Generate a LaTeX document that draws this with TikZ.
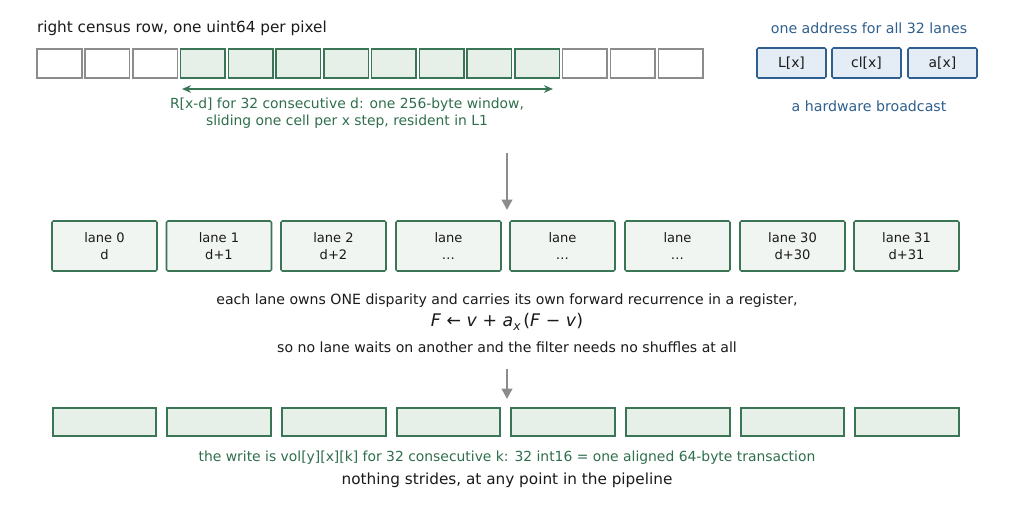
\documentclass[tikz,border=0pt]{standalone}
\usepackage{fontspec}
\setmainfont{DejaVu Sans}
\usetikzlibrary{arrows.meta}
\definecolor{gedge}{HTML}{3A7556}
\definecolor{gtext}{HTML}{2F6E4C}
\definecolor{gfill}{HTML}{E6F0E8}
\definecolor{lfill}{HTML}{F1F5F1}
\definecolor{bedge}{HTML}{2F5F8E}
\definecolor{bfill}{HTML}{E4EDF5}
\definecolor{btext}{HTML}{2F5F8E}
\definecolor{gcell}{HTML}{8C8C8C}
\definecolor{txt}{HTML}{1A1A1A}
\tikzset{
  every node/.style={inner sep=0pt, outer sep=0pt},
  graycell/.style={draw=gcell, line width=1.1pt, fill=white, minimum width=44.5*0.72pt, minimum height=29*0.72pt},
  greencell/.style={draw=gedge, line width=1.1pt, fill=gfill, minimum width=44.5*0.72pt, minimum height=29*0.72pt},
  bluebox/.style={draw=bedge, line width=1.1pt, fill=bfill, rounded corners=1pt, minimum width=69*0.72pt, minimum height=30*0.72pt, font=\fontsize{10}{11}\selectfont, text=txt},
  lanebox/.style={draw=gedge, line width=1.1pt, fill=lfill, rounded corners=1pt, minimum width=105*0.72pt, minimum height=50*0.72pt, align=center, font=\fontsize{9.4}{12.2}\selectfont, text=txt},
  outbox/.style={draw=gedge, line width=1.1pt, fill=gfill, minimum width=103.5*0.72pt, minimum height=28*0.72pt},
  grayarrow/.style={draw=gcell, line width=2.1pt, -{Triangle[length=7.5pt,width=7.5pt]}},
  gtxt/.style={text=gtext, font=\fontsize{10}{12.2}\selectfont, align=center},
  btxt/.style={text=btext, font=\fontsize{10.2}{12}\selectfont},
  ktxt/.style={text=txt, font=\fontsize{10.15}{12}\selectfont},
}
\begin{document}
\begin{tikzpicture}[x=0.72pt,y=-0.72pt]
\useasboundingbox (0,0) rectangle (1013,506);
% title
\node[text=txt, font=\fontsize{11}{12}\selectfont, anchor=west] (title) at (37,28) {right census row, one uint64 per pixel};
% top row of cells
\foreach \i in {0,...,13}{
  \pgfmathsetmacro{\cx}{59.5+47.77*\i}
  \ifnum\i<3
    \node[graycell] (c\i) at (\cx,63.5) {};
  \else\ifnum\i>10
    \node[graycell] (c\i) at (\cx,63.5) {};
  \else
    \node[greencell] (c\i) at (\cx,63.5) {};
  \fi\fi
}
\coordinate (wl) at (182,89);
\coordinate (wr) at (553,89);
\draw[gedge, line width=1.3pt, {Stealth[length=6.5pt,width=5.5pt]}-{Stealth[length=6.5pt,width=5.5pt]}] (wl) -- (wr);
\node[gtxt] (wtext) at (347,113) {R[x-d] for 32 consecutive d: one 256-byte window,\\sliding one cell per x step, resident in L1};
% broadcast boxes
\node[btxt] (btop) at (869,28) {one address for all 32 lanes};
\node[bluebox] (bL) at (791.5,63) {L[x]};
\node[bluebox] (bcl) at (866.5,63) {cl[x]};
\node[bluebox] (ba) at (942.5,63) {a[x]};
\node[btxt] (bbot) at (869,106) {a hardware broadcast};
% arrow 1
\coordinate (a1s) at (507,153);
\coordinate (a1e) at (507,210);
\draw[grayarrow] (a1s) -- (a1e);
% lanes
\node[lanebox] (l0) at (104.5,246) {lane 0\\d};
\node[lanebox] (l1) at (219,246) {lane 1\\d+1};
\node[lanebox] (l2) at (333.5,246) {lane 2\\d+2};
\node[lanebox] (l3) at (448.5,246) {lane\\\dots};
\node[lanebox] (l4) at (562.5,246) {lane\\\dots};
\node[lanebox] (l5) at (677.5,246) {lane\\\dots};
\node[lanebox] (l6) at (792.5,246) {lane 30\\d+30};
\node[lanebox] (l7) at (906.5,246) {lane 31\\d+31};
% explanation
\node[ktxt] (e1) at (507,300.5) {each lane owns ONE disparity and carries its own forward recurrence in a register,};
\node[text=txt, font=\fontsize{12.5}{14}\selectfont] (e2) at (507,322) {\itshape F\/ \upshape← \itshape v\/ \upshape+ \itshape a\raisebox{-0.35ex}{\fontsize{8.8}{9}\selectfont x}\upshape\,(\itshape F\/ \upshape− \itshape v\/\upshape)};
\node[ktxt] (e3) at (507,347) {so no lane waits on another and the filter needs no shuffles at all};
% arrow 2
\coordinate (a2s) at (507,369);
\coordinate (a2e) at (507,399);
\draw[grayarrow] (a2s) -- (a2e);
% output boxes
\node[outbox] (o0) at (104.5,422) {};
\node[outbox] (o1) at (219,422) {};
\node[outbox] (o2) at (334,422) {};
\node[outbox] (o3) at (448.5,422) {};
\node[outbox] (o4) at (563,422) {};
\node[outbox] (o5) at (678,422) {};
\node[outbox] (o6) at (792.5,422) {};
\node[outbox] (o7) at (907,422) {};
\node[gtxt] (w1) at (507,457.5) {the write is vol[y][x][k] for 32 consecutive k: 32 int16 = one aligned 64-byte transaction};
\node[text=txt, font=\fontsize{11}{12}\selectfont] (w2) at (507,480) {nothing strides, at any point in the pipeline};
\end{tikzpicture}
\end{document}
